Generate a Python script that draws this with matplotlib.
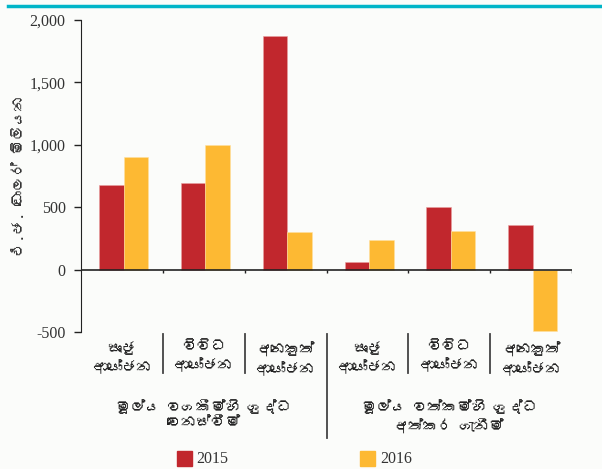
import matplotlib
matplotlib.use("Agg")
import matplotlib.pyplot as plt
from matplotlib import font_manager
from matplotlib.ft2font import FT2Font
import numpy as np

# Data (US$ million)
categories = ["සෘජු\nආයෝජන", "විවිධ\nආයෝජන", "අනෙකුත්\nආයෝජන",
              "සෘජු\nආයෝජන", "විවිධ\nආයෝජන", "අනෙකුත්\nආයෝජන"]
groups = ["මූල්‍ය වගකීම්හි ශුද්ධ\nවෙනස්වීම්", "මූල්‍ය වත්කම්හි ශුද්ධ\nඅත්කර ගැනීම්"]
values_2015 = [680, 690, 1870, 60, 505, 360]
values_2016 = [900, 1000, 305, 240, 312, -490]
series_names = ["2015", "2016"]
y_ticks = [-500, 0, 500, 1000, 1500, 2000]
y_label = "එ.ජ. ඩොලර් මිලියන"

# look for any installed font that can draw Sinhala
sinhala_fonts = []
for f in font_manager.fontManager.ttflist:
    try:
        if 0x0DC3 in FT2Font(f.fname).get_charmap():
            sinhala_fonts.append(f.name)
    except Exception:
        pass
text_family = sinhala_fonts[:1] + ["DejaVu Sans"]
num_family = ["Liberation Serif", "DejaVu Serif"]


def shown(s):
    # matplotlib has no complex shaping, the joiner would only draw as a box
    return s.replace("\u200d", "")


red = "#c1272d"
yellow = "#fdb933"
bg = "#fbfcfa"

fig = plt.figure(figsize=(6.02, 4.69), dpi=100, facecolor=bg)
ax = fig.add_axes([81 / 602, 1 - 332 / 469, 491 / 602, 312 / 469])
ax.set_facecolor(bg)

x = np.arange(len(categories))
w = 0.3
ax.bar(x - w / 2 + 0.02, values_2015, w, color=red, edgecolor="#e8a0a0", linewidth=0.4)
ax.bar(x + w / 2 + 0.02, values_2016, w, color=yellow, edgecolor="#ffe0a0", linewidth=0.4)

ax.set_xlim(-0.5, len(categories) - 0.5)
ax.set_ylim(-500, 2000)
ax.set_yticks(y_ticks)
ax.set_yticklabels([f"{v:,}" for v in y_ticks], family=num_family, fontsize=11.5, color="#333333")
ax.tick_params(axis="y", direction="out", length=5, width=1, color="#222222", pad=6)
ax.set_xticks([])
for s in ["top", "right", "bottom"]:
    ax.spines[s].set_visible(False)
ax.spines["left"].set_color("#222222")

# zero line and small category ticks
ax.axhline(0, color="#222222", lw=1.2)
bounds = np.arange(0.5, len(categories), 1.0)
ax.vlines(bounds, -30, 0, color="#222222", lw=1)

ax.set_ylabel(y_label, family=text_family, fontsize=10.5, color="#333333", labelpad=3)

# category labels and separators below the plot
trans = ax.get_xaxis_transform()
for i, c in enumerate(categories):
    ax.text(i, -0.03, c, transform=trans, ha="center", va="top", fontsize=10.5,
            family=text_family, color="#222222", linespacing=1.35)
for b in bounds[:-1]:
    top, bottom = -0.005, -0.13
    if b == 2.5:
        bottom = -0.34
    ax.plot([b, b], [top, bottom], transform=trans, color="#444444", lw=1.3, clip_on=False)
for g, gx in zip(groups, [1, 4]):
    ax.text(gx, -0.215, shown(g), transform=trans, ha="center", va="top", fontsize=10.5,
            family=text_family, color="#222222", linespacing=1.35)

# legend
fig.patches.append(plt.Rectangle((177 / 602, 1 - 466 / 469), 15 / 602, 15 / 469,
                                 transform=fig.transFigure, color=red))
fig.text(196 / 602, 1 - 459 / 469, series_names[0], va="center", family=num_family,
         fontsize=11.5, color="#333333")
fig.patches.append(plt.Rectangle((360 / 602, 1 - 466 / 469), 15 / 602, 15 / 469,
                                 transform=fig.transFigure, color=yellow))
fig.text(380 / 602, 1 - 459 / 469, series_names[1], va="center", family=num_family,
         fontsize=11.5, color="#333333")

# teal rule at the top
fig.add_artist(plt.Line2D([8 / 602, 1], [1 - 6 / 469] * 2, transform=fig.transFigure,
                          color="#00b5c8", lw=2.5))

fig.savefig("out.png", dpi=100, facecolor=bg)
